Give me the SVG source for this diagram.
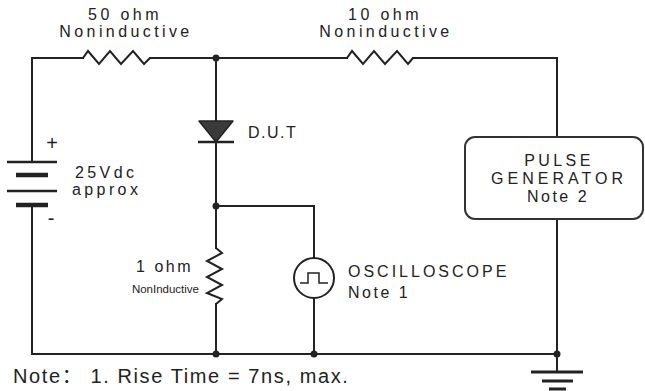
<svg xmlns="http://www.w3.org/2000/svg" width="645" height="391" viewBox="0 0 645 391">
<style>
.w{fill:none;stroke:#222;stroke-width:2;stroke-linejoin:miter;stroke-linecap:square}
.z{fill:none;stroke:#222;stroke-width:2;stroke-linejoin:miter}
.t{font-family:"Liberation Sans",Arial,sans-serif;font-size:16px;fill:#222;letter-spacing:3.4px}
.dot{fill:#222}
</style>
<rect width="645" height="391" fill="#fff"/>
<g id="connectors">
<polyline class="w" points="83,58 32,58 32,162"/>
<line class="w" x1="150" y1="58" x2="347" y2="58"/>
<polyline class="w" points="413,58 557,58 557,137"/>
<line class="w" x1="216" y1="58" x2="216" y2="121"/>
<polyline class="w" points="216,142 216,206 314,206 314,258"/>
<line class="w" x1="216" y1="206" x2="216" y2="248"/>
<line class="w" x1="216" y1="304" x2="216" y2="354"/>
<line class="w" x1="314" y1="298" x2="314" y2="354"/>
<polyline class="w" points="32,205 32,354 557,354"/>
<line class="w" x1="557" y1="219" x2="557" y2="372"/>
<circle class="dot" cx="216" cy="58" r="3.5"/>
<circle class="dot" cx="216" cy="206" r="3.5"/>
<circle class="dot" cx="216" cy="354" r="3.5"/>
<circle class="dot" cx="314" cy="354" r="3.5"/>
<circle class="dot" cx="557" cy="354" r="3.5"/>
</g>
<g id="r50">
<polyline class="z" points="83,58 88,51 99,64 110,51 121,64 133,51 144,64 150,58"/>
<text class="t" x="125" y="20" text-anchor="middle">50 ohm</text>
<text class="t" x="126" y="37" text-anchor="middle">Noninductive</text>
</g>
<g id="r10">
<polyline class="z" points="347,58 352,51 363,64 374,51 385,64 397,51 408,64 413,58"/>
<text class="t" x="385" y="20" text-anchor="middle">10 ohm</text>
<text class="t" x="386" y="37" text-anchor="middle">Noninductive</text>
</g>
<g id="battery">
<line x1="7" y1="162" x2="57" y2="162" stroke="#222" stroke-width="2.5"/>
<line x1="16" y1="175" x2="48" y2="175" stroke="#222" stroke-width="4.5"/>
<line x1="7" y1="191" x2="57" y2="191" stroke="#222" stroke-width="2.5"/>
<line x1="16" y1="205" x2="48" y2="205" stroke="#222" stroke-width="4.5"/>
<text x="52" y="150" font-family="Liberation Sans,Arial,sans-serif" font-size="20" fill="#222" text-anchor="middle">+</text>
<text x="51" y="225" font-family="Liberation Sans,Arial,sans-serif" font-size="20" fill="#222" text-anchor="middle">-</text>
<text class="t" x="75" y="178">25Vdc</text>
<text class="t" x="72" y="195">approx</text>
</g>
<g id="dut">
<polygon points="199,121 233,121 216,142" fill="#3a3a3a" stroke="#222" stroke-width="1.5" stroke-linejoin="round"/>
<line x1="198" y1="142" x2="234" y2="142" stroke="#222" stroke-width="2.5"/>
<text class="t" x="248" y="138" style="letter-spacing:1.5px">D.U.T</text>
</g>
<g id="r1">
<polyline class="z" points="216,248 222,253 207,261 222,269 207,277 222,285 207,293 222,299 216,304"/>
<text class="t" x="193" y="272" text-anchor="end" style="letter-spacing:2.5px">1 ohm</text>
<text x="199" y="293" font-family="Liberation Sans,Arial,sans-serif" font-size="11.5" fill="#222" text-anchor="end">NonInductive</text>
</g>
<g id="oscilloscope">
<circle cx="314" cy="278" r="20" fill="none" stroke="#222" stroke-width="2"/>
<polyline points="300,283 308,283 308,273 319,273 319,283 328,283" fill="none" stroke="#222" stroke-width="1.5"/>
<text class="t" x="348" y="277" style="letter-spacing:3px">OSCILLOSCOPE</text>
<text class="t" x="348" y="298" style="letter-spacing:2.5px">Note 1</text>
</g>
<g id="pulse-generator">
<rect x="465" y="137" width="178" height="82" rx="10" fill="#fff" stroke="#333" stroke-width="2"/>
<text class="t" x="559" y="166" text-anchor="middle">PULSE</text>
<text class="t" x="559" y="184" text-anchor="middle" style="letter-spacing:4px">GENERATOR</text>
<text class="t" x="558" y="202" text-anchor="middle" style="letter-spacing:2.5px">Note 2</text>
</g>
<g id="ground">
<line x1="531" y1="372" x2="583" y2="372" stroke="#222" stroke-width="3"/>
<line x1="542" y1="381" x2="573" y2="381" stroke="#222" stroke-width="3"/>
<line x1="549" y1="389" x2="566" y2="389" stroke="#222" stroke-width="3"/>
</g>
<g id="note">
<text x="13" y="383" font-family="Liberation Sans,Arial,'Noto Sans CJK SC',sans-serif" font-size="20" fill="#222" letter-spacing="1.6">Note：  1. Rise Time = 7ns, max.</text>
</g>
</svg>
